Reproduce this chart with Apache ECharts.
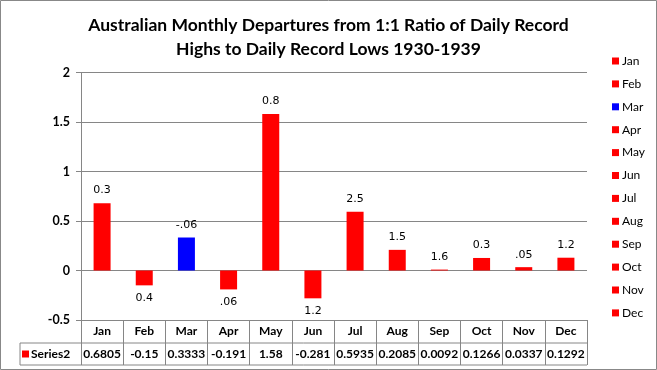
<!DOCTYPE html>
<html><head><meta charset="utf-8">
<script src="https://cdn.jsdelivr.net/npm/echarts@6/dist/echarts.min.js"></script>
<style>html,body{margin:0;padding:0;background:#fff}#c{width:657px;height:370px}</style>
</head><body><div id="c"></div>
<script>
var months = ['Jan','Feb','Mar','Apr','May','Jun','Jul','Aug','Sep','Oct','Nov','Dec'];
var values = [0.6805, -0.15, 0.3333, -0.191, 1.58, -0.281, 0.5935, 0.2085, 0.0092, 0.1266, 0.0337, 0.1292];
var barLabels = ['0.3','0.4','-.06','.06','0.8','1.2','2.5','1.5','1.6','0.3','.05','1.2'];
var barColors = ['#FF0000','#FF0000','#0000FF','#FF0000','#FF0000','#FF0000','#FF0000','#FF0000','#FF0000','#FF0000','#FF0000','#FF0000'];
var yTicks = {min: -0.5, max: 2, interval: 0.5};
var tableSeriesName = 'Series2';
var titleText = 'Australian Monthly Departures from 1:1 Ratio of Daily Record\nHighs to Daily Record Lows 1930-1939';

var chart = echarts.init(document.getElementById('c'));
var gridC = '#868686';
var series = months.map(function (m, i) {
  return {
    name: m, type: 'bar', barWidth: 17, barGap: '-100%',
    itemStyle: {color: barColors[i]},
    data: months.map(function (_, j) {
      if (j !== i) return '-';
      return {
        value: values[i],
        label: {
          show: true,
          position: values[i] >= 0 ? 'top' : 'bottom',
          distance: 7,
          formatter: barLabels[i],
          color: '#000', fontFamily: 'DejaVu Sans', fontSize: 11
        }
      };
    })
  };
});
chart.setOption({
  animation: false,
  title: {
    text: titleText, left: 'center', top: 8,
    textStyle: {fontFamily: 'Lato', fontWeight: 'bold', fontSize: 17.5, lineHeight: 24, color: '#000'}
  },
  legend: {
    orient: 'vertical', left: 607, top: 50, itemWidth: 7, itemHeight: 7, itemGap: 10.9,
    icon: 'rect', data: months,
    textStyle: {fontFamily: 'Lato', fontSize: 12, color: '#000', padding: [0,0,0,-2]}
  },
  grid: {left: 81, right: 70, top: 72.5, bottom: 50, containLabel: false},
  xAxis: {
    type: 'category', data: months, position: 'bottom',
    axisLine: {onZero: false, lineStyle: {color: gridC}},
    axisTick: {show: true, length: 45, interval: 0, alignWithLabel: false, lineStyle: {color: gridC}},
    axisLabel: {
      interval: 0, margin: 0,
      formatter: function (v, i) {
        return '{m|' + v + '}\n{v|' + String(values[i]) + '}';
      },
      rich: {
        m: {fontFamily: 'Lato', fontWeight: 'bold', fontSize: 12, lineHeight: 23, color: '#000'},
        v: {fontFamily: 'Lato', fontWeight: 'bold', fontSize: 12, lineHeight: 22, color: '#000'}
      }
    }
  },
  yAxis: {
    type: 'value', min: yTicks.min, max: yTicks.max, interval: yTicks.interval,
    axisLine: {show: true, lineStyle: {color: gridC}},
    axisTick: {show: true, length: 5, lineStyle: {color: gridC}},
    splitLine: {lineStyle: {color: gridC}},
    axisLabel: {margin: 11, fontFamily: 'Lato', fontWeight: 'bold', fontSize: 12.5, color: '#000'}
  },
  series: series
});

// data table borders + row header, positioned from the axes
var yBottom = chart.convertToPixel({yAxisIndex: 0}, yTicks.min);
var xLeft = chart.convertToPixel({xAxisIndex: 0}, months[0]);
var xRight = chart.convertToPixel({xAxisIndex: 0}, months[months.length - 1]);
var half = (xRight - xLeft) / (months.length - 1) / 2;
var gx0 = xLeft - half, gx1 = xRight + half;
var row1 = yBottom + 23, row2 = yBottom + 45;
var hdrLeft = gx0 - 61;
chart.setOption({
  graphic: [
    {type: 'rect', shape: {x: 0.5, y: 0.5, width: 656, height: 369}, style: {fill: 'none', stroke: '#888', lineWidth: 1}, silent: true},
    {type: 'polyline', shape: {points: [[gx1, row1], [hdrLeft, row1], [hdrLeft, row2], [gx1, row2]]}, style: {stroke: gridC, fill: 'none', lineWidth: 1}},
    {type: 'rect', shape: {x: hdrLeft + 2, y: (row1 + row2) / 2 - 3.5, width: 7, height: 7}, style: {fill: barColors[0]}},
    {type: 'text', x: hdrLeft + 11, y: (row1 + row2) / 2, style: {text: tableSeriesName, fontFamily: 'Lato', fontWeight: 'bold', fontSize: 12, fill: '#000', verticalAlign: 'middle', textAlign: 'left'}}
  ]
});
</script></body></html>
